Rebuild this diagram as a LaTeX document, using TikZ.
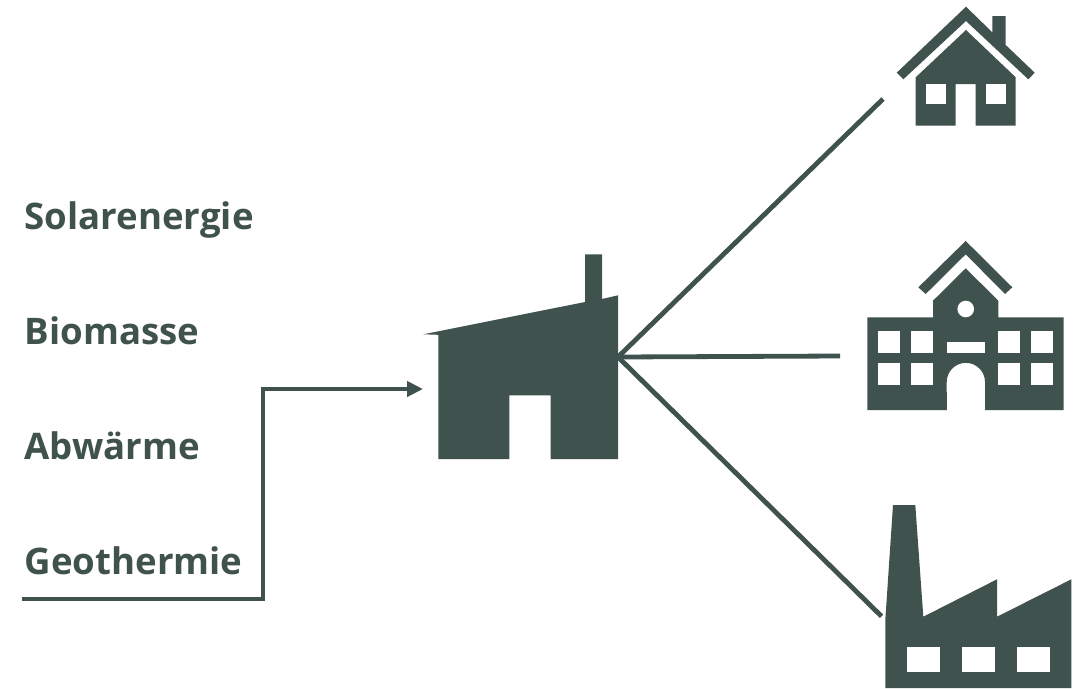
\documentclass[tikz,border=0pt]{standalone}
\usepackage{fontspec}
\setmainfont{Open Sans}
\usetikzlibrary{arrows.meta}
\definecolor{slate}{HTML}{40524D}
\tikzset{
  icon/.style={fill=slate,draw=none},
  hole/.style={fill=white,draw=none},
  link/.style={draw=slate,line width=4.8pt,line cap=butt},
  label/.style={text=slate,anchor=base west,inner sep=0pt,font=\fontsize{36.6pt}{40pt}\selectfont\bfseries}
}
\begin{document}
\begin{tikzpicture}[x=1pt,y=-1pt]
\useasboundingbox (0,0) rectangle (1078,688);
\fill[white] (0,0) rectangle (1078,688);
% labels
\node[label] (solar) at (24.5,229) {Solarenergie};
\node[label] (bio) at (24.5,344) {Biomasse};
\node[label] (abw) at (24.5,459) {Abwärme};
\node[label] (geo) at (24.5,574) {Geothermie};
% anchor points
\coordinate (inStart) at (22,599);
\coordinate (inBend1) at (263,599);
\coordinate (inBend2) at (263,389);
\coordinate (plantIn) at (423,389);
\coordinate (hub) at (618,357);
\coordinate (toHouse) at (883,99);
\coordinate (toSchool) at (840,356);
\coordinate (toFactory) at (881.5,616.3);
% connectors
\draw[link,-{Triangle[length=16pt,width=15pt]}] (inStart) -- (inBend1) -- (inBend2) -- (plantIn);
\draw[link] (hub) -- (toHouse);
\draw[link] (hub) -- (toSchool);
\draw[link] (hub) -- (toFactory);
% plant
\fill[icon] (423.3,334.3) -- (585,302) -- (585,254.3) -- (602,254.3) -- (602,299) -- (618,295.3)
  -- (618,459) -- (550.7,459) -- (550.7,395.3) -- (509.3,395.3) -- (509.3,459) -- (438.3,459) -- (438.3,334.8) -- cycle;
% house
\fill[icon] (966,6.7) -- (992.3,32.3) -- (992.3,16) -- (1005.7,16) -- (1005.7,45) -- (1034.7,72.7) -- (1028.3,79.3)
  -- (966,21) -- (903.3,79.3) -- (896.7,72.7) -- cycle;
\fill[icon] (966,30) -- (1015.7,77.3) -- (1015.7,125.7) -- (975.7,125.7) -- (975.7,84) -- (955.7,84) -- (955.7,125.7)
  -- (915.7,125.7) -- (915.7,77.3) -- cycle;
\fill[hole] (926,84) rectangle (946,104.3);
\fill[hole] (985.7,84) rectangle (1005.7,104.3);
% school
\fill[icon] (965.7,241) -- (1012.3,287.3) -- (1005,294) -- (965.7,254.3) -- (925.7,294) -- (918.3,287.3) -- cycle;
\fill[icon] (965.7,268.3) -- (998.3,300.7) -- (998.3,317.3) -- (1063.7,317.3) -- (1063.7,410) -- (985,410) -- (985,382)
  arc[start angle=0,end angle=-180,radius=19.15] -- (946.8,410) -- (867.3,410) -- (867.3,317.3) -- (933,317.3) -- (933,300.7) -- cycle;
\fill[hole] (965.7,309) circle[radius=8.3];
\foreach \xa in {878.3,911,998.3,1031}{
  \fill[hole] (\xa,330.7) rectangle ++(22,22);
  \fill[hole] (\xa,363.3) rectangle ++(22,22);
}
\fill[hole] (946.7,341.7) rectangle (985,352.7);
% factory
\fill[icon] (893,505) -- (915.3,505) -- (923.3,616.7) -- (997,579.3) -- (997,616.7) -- (1071.3,579.3) -- (1071.3,688)
  -- (885.3,688) -- (885.3,620) -- cycle;
\fill[hole] (906.7,647.3) rectangle (940,671.7);
\fill[hole] (961.7,647.3) rectangle (994.7,671.7);
\fill[hole] (1016.7,647.3) rectangle (1049.7,671.7);
\end{tikzpicture}
\end{document}
